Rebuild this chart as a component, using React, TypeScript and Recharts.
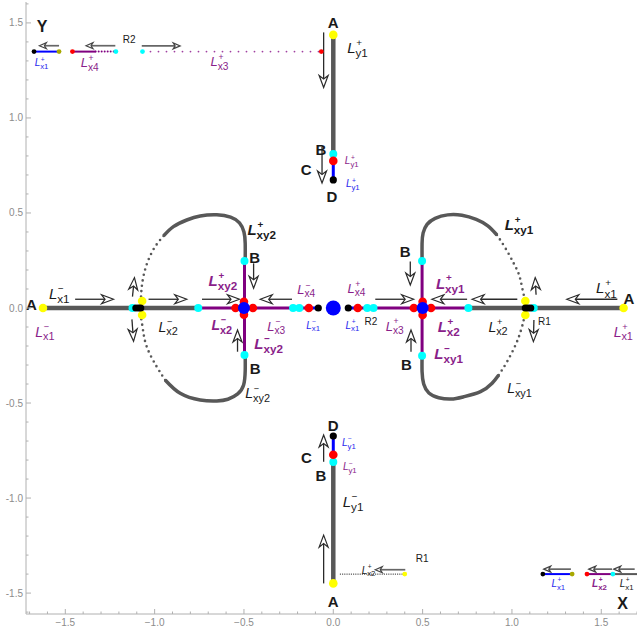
import { ComposedChart, XAxis, YAxis, Line, Scatter, ReferenceLine } from 'recharts';

const FONT = '"Liberation Sans", Arial, sans-serif';
const GRAY = '#585858';
const PURPLE = '#800080';
const BLUE = '#0000ff';
const INK = '#1a1a1a';
const TAG_PURPLE = '#8a1e8a';
const TAG_BLUE = '#2a2aee';

// frame ticks
const MAJOR_TICKS = [-1.5, -1, -0.5, 0, 0.5, 1, 1.5];
const ALL_TICKS = [
  -1.7, -1.6, -1.5, -1.4, -1.3, -1.2, -1.1, -1, -0.9, -0.8, -0.7, -0.6, -0.5, -0.4, -0.3, -0.2, -0.1,
  0, 0.1, 0.2, 0.3, 0.4, 0.5, 0.6, 0.7, 0.8, 0.9, 1, 1.1, 1.2, 1.3, 1.4, 1.5, 1.6, 1.7,
];

type P = { x: number; y: number };

// x-axis branch
const xLeftGray: P[] = [{ x: -1.625, y: 0 }, { x: -0.756, y: 0 }];
const xLeftPurple: P[] = [{ x: -0.756, y: 0 }, { x: -0.137, y: 0 }];
const xLeftBlue: P[] = [{ x: -0.137, y: 0 }, { x: -0.084, y: 0 }];
const xRightBlue: P[] = [{ x: 0.084, y: 0 }, { x: 0.137, y: 0 }];
const xRightPurple: P[] = [{ x: 0.137, y: 0 }, { x: 0.756, y: 0 }];
const xRightGray: P[] = [{ x: 0.756, y: 0 }, { x: 1.625, y: 0 }];
const xy2Stem: P[] = [{ x: -0.497, y: 0.247 }, { x: -0.497, y: -0.247 }];
const xy1Stem: P[] = [{ x: 0.497, y: 0.247 }, { x: 0.497, y: -0.251 }];

// y-axis branch
const yTopGray: P[] = [{ x: 0, y: 1.437 }, { x: 0, y: 0.81 }];
const yTopBlue: P[] = [{ x: 0, y: 0.774 }, { x: 0, y: 0.674 }];
const yBottomBlue: P[] = [{ x: 0, y: -0.674 }, { x: 0, y: -0.772 }];
const yBottomGray: P[] = [{ x: 0, y: -0.81 }, { x: 0, y: -1.449 }];

// loops around x = -0.5
const lxy2Plus: P[] = [
  { x: -0.493, y: 0.247 }, { x: -0.493, y: 0.34 }, { x: -0.5, y: 0.4 }, { x: -0.525, y: 0.448 },
  { x: -0.575, y: 0.478 }, { x: -0.652, y: 0.49 }, { x: -0.745, y: 0.484 }, { x: -0.82, y: 0.463 },
  { x: -0.895, y: 0.428 }, { x: -0.95, y: 0.379 },
];
const lxy2PlusTail: P[] = [
  { x: -0.95, y: 0.379 }, { x: -0.997, y: 0.323 }, { x: -1.035, y: 0.253 }, { x: -1.059, y: 0.182 },
  { x: -1.072, y: 0.112 }, { x: -1.076, y: 0.06 }, { x: -1.078, y: 0.02 },
];
const lxy2Minus: P[] = [
  { x: -0.493, y: -0.247 }, { x: -0.493, y: -0.33 }, { x: -0.502, y: -0.405 }, { x: -0.535, y: -0.452 },
  { x: -0.59, y: -0.48 }, { x: -0.652, y: -0.489 }, { x: -0.745, y: -0.484 }, { x: -0.857, y: -0.449 },
  { x: -0.941, y: -0.379 },
];
const lxy2MinusTail: P[] = [
  { x: -0.941, y: -0.379 }, { x: -0.988, y: -0.309 }, { x: -1.044, y: -0.204 }, { x: -1.066, y: -0.11 },
  { x: -1.076, y: -0.05 }, { x: -1.078, y: -0.02 },
];

// loops around x = 0.5
const lxy1Plus: P[] = [
  { x: 0.497, y: 0.247 }, { x: 0.497, y: 0.34 }, { x: 0.503, y: 0.395 }, { x: 0.525, y: 0.44 },
  { x: 0.57, y: 0.472 }, { x: 0.64, y: 0.49 }, { x: 0.72, y: 0.488 }, { x: 0.8, y: 0.466 },
  { x: 0.865, y: 0.432 }, { x: 0.916, y: 0.384 },
];
const lxy1PlusTail: P[] = [
  { x: 0.916, y: 0.384 }, { x: 0.964, y: 0.314 }, { x: 1.01, y: 0.235 }, { x: 1.04, y: 0.174 },
  { x: 1.056, y: 0.112 }, { x: 1.07, y: 0.051 }, { x: 1.075, y: 0.016 },
];
const lxy1Minus: P[] = [
  { x: 0.497, y: -0.251 }, { x: 0.497, y: -0.335 }, { x: 0.506, y: -0.4 }, { x: 0.535, y: -0.447 },
  { x: 0.59, y: -0.472 }, { x: 0.66, y: -0.479 }, { x: 0.73, y: -0.467 }, { x: 0.824, y: -0.44 },
  { x: 0.889, y: -0.396 }, { x: 0.926, y: -0.353 },
];
const lxy1MinusTail: P[] = [
  { x: 0.926, y: -0.353 }, { x: 0.973, y: -0.282 }, { x: 1.02, y: -0.195 }, { x: 1.048, y: -0.125 },
  { x: 1.066, y: -0.063 }, { x: 1.075, y: -0.016 },
];

// "Y" inset (top left)
const yInsetBlue: P[] = [{ x: -1.675, y: 1.349 }, { x: -1.535, y: 1.349 }];
const yInsetX4: P[] = [{ x: -1.46, y: 1.349 }, { x: -1.33, y: 1.349 }];
const yInsetX4Tail: P[] = [{ x: -1.33, y: 1.349 }, { x: -1.217, y: 1.349 }];
const yInsetX3: P[] = [{ x: -1.068, y: 1.349 }, { x: -0.067, y: 1.349 }];

// "X" inset (bottom right)
const xInsetBlue: P[] = [{ x: 1.173, y: -1.4 }, { x: 1.337, y: -1.4 }];
const xInsetX2: P[] = [{ x: 1.42, y: -1.4 }, { x: 1.565, y: -1.4 }];
const xInsetX1: P[] = [{ x: 1.565, y: -1.4 }, { x: 1.7, y: -1.4 }];
const r1Trace: P[] = [{ x: 0.04, y: -1.4 }, { x: 0.4, y: -1.4 }];

// equilibria
const yellowDots: P[] = [
  { x: -1.625, y: 0 }, { x: 1.625, y: 0 }, { x: 0, y: 1.437 }, { x: 0, y: -1.449 },
  { x: -1.07, y: 0.037 }, { x: -1.07, y: -0.037 }, { x: 1.075, y: 0.037 }, { x: 1.075, y: -0.037 },
];
const cyanDots: P[] = [
  { x: -0.756, y: 0 }, { x: 0.756, y: 0 }, { x: -0.225, y: 0 }, { x: -0.19, y: 0 },
  { x: 0.19, y: 0 }, { x: 0.225, y: 0 }, { x: -1.124, y: 0 }, { x: 1.122, y: 0 },
  { x: -0.497, y: 0.247 }, { x: -0.497, y: -0.247 }, { x: 0.497, y: 0.247 }, { x: 0.497, y: -0.251 },
  { x: 0, y: 0.81 }, { x: 0, y: -0.81 },
];
const redDots: P[] = [
  { x: -0.137, y: 0 }, { x: 0.137, y: 0 }, { x: -0.45, y: 0 }, { x: -0.547, y: 0 },
  { x: 0.451, y: 0 }, { x: 0.547, y: 0 }, { x: -0.5, y: 0.033 }, { x: -0.5, y: -0.035 },
  { x: 0.5, y: 0.033 }, { x: 0.5, y: -0.037 }, { x: 0, y: 0.774 }, { x: 0, y: -0.772 },
];
const blackDots: P[] = [
  { x: -0.084, y: 0 }, { x: 0.084, y: 0 }, { x: -1.105, y: 0 }, { x: -1.09, y: 0 }, { x: -1.078, y: 0 },
  { x: 1.075, y: 0 }, { x: 1.09, y: 0 }, { x: 1.105, y: 0 }, { x: 0, y: 0.674 }, { x: 0, y: -0.674 },
];
const blueSide: P[] = [{ x: -0.5, y: 0 }, { x: 0.5, y: 0 }];
const blueOrigin: P[] = [{ x: 0, y: 0 }];
const insetBlack: P[] = [{ x: -1.675, y: 1.349 }, { x: 1.173, y: -1.4 }];
const insetOlive: P[] = [{ x: -1.535, y: 1.349 }, { x: 1.337, y: -1.4 }];
const insetRed: P[] = [{ x: -1.46, y: 1.349 }, { x: -0.067, y: 1.349 }, { x: 1.42, y: -1.4 }];
const insetCyan: P[] = [{ x: -1.217, y: 1.349 }, { x: -1.068, y: 1.349 }, { x: 1.565, y: -1.4 }];
const insetYellow: P[] = [{ x: 0.4, y: -1.4 }];

// flow arrows: tail -> head
type Arrow = { x1: number; y1: number; x2: number; y2: number };
const bigArrows: Arrow[] = [
  { x1: -1.445, y1: 0.046, x2: -1.23, y2: 0.046 },
  { x1: -1.034, y1: 0.046, x2: -0.82, y2: 0.046 },
  { x1: -0.735, y1: 0.046, x2: -0.525, y2: 0.046 },
  { x1: -0.231, y1: 0.046, x2: -0.409, y2: 0.046 },
  { x1: 0.235, y1: 0.046, x2: 0.45, y2: 0.046 },
  { x1: 0.749, y1: 0.046, x2: 0.552, y2: 0.046 },
  { x1: 1.03, y1: 0.046, x2: 0.777, y2: 0.046 },
  { x1: 1.59, y1: 0.046, x2: 1.307, y2: 0.046 },
  { x1: -1.124, y1: 0.06, x2: -1.113, y2: 0.16 },
  { x1: -1.127, y1: -0.06, x2: -1.118, y2: -0.175 },
  { x1: 1.135, y1: 0.07, x2: 1.13, y2: 0.16 },
  { x1: 1.123, y1: -0.063, x2: 1.12, y2: -0.177 },
  { x1: -0.446, y1: 0.235, x2: -0.446, y2: 0.104 },
  { x1: -0.536, y1: -0.23, x2: -0.536, y2: -0.116 },
  { x1: 0.431, y1: 0.244, x2: 0.431, y2: 0.121 },
  { x1: 0.435, y1: -0.23, x2: 0.435, y2: -0.116 },
  { x1: -0.054, y1: 1.45, x2: -0.054, y2: 1.16 },
  { x1: -0.063, y1: 0.847, x2: -0.063, y2: 0.658 },
  { x1: -0.054, y1: -0.809, x2: -0.054, y2: -0.668 },
  { x1: -0.054, y1: -1.449, x2: -0.054, y2: -1.195 },
];
const smallArrows: Arrow[] = [
  { x1: -1.535, y1: 1.38, x2: -1.645, y2: 1.38 },
  { x1: -1.22, y1: 1.38, x2: -1.384, y2: 1.38 },
  { x1: -1.072, y1: 1.379, x2: -0.857, y2: 1.379 },
  { x1: 0.403, y1: -1.377, x2: 0.235, y2: -1.377 },
  { x1: 1.33, y1: -1.374, x2: 1.178, y2: -1.374 },
  { x1: 1.56, y1: -1.374, x2: 1.43, y2: -1.374 },
  { x1: 1.687, y1: -1.374, x2: 1.57, y2: -1.374 },
];

// curve names L^sup_sub
type Tag = { x: number; y: number; sup: string; sub: string; color: string; size: number; bold?: boolean };
const M = '\u2212';
const curveTags: Tag[] = [
  { x: -1.53, y: 0.077, sup: M, sub: 'x1', color: INK, size: 15 },
  { x: -1.61, y: -0.125, sup: M, sub: 'x1', color: TAG_PURPLE, size: 14 },
  { x: -0.92, y: -0.098, sup: M, sub: 'x2', color: INK, size: 14 },
  { x: -0.4, y: 0.41, sup: '+', sub: 'xy2', color: INK, size: 15, bold: true },
  { x: -0.618, y: 0.142, sup: '+', sub: 'xy2', color: TAG_PURPLE, size: 15, bold: true },
  { x: -0.148, y: 0.098, sup: M, sub: 'x4', color: TAG_PURPLE, size: 13 },
  { x: -0.624, y: -0.09, sup: M, sub: 'x2', color: TAG_PURPLE, size: 14, bold: true },
  { x: -0.316, y: -0.095, sup: M, sub: 'x3', color: TAG_PURPLE, size: 13 },
  { x: -0.11, y: -0.09, sup: M, sub: 'x1', color: TAG_BLUE, size: 10 },
  { x: -0.362, y: -0.186, sup: M, sub: 'xy2', color: TAG_PURPLE, size: 15, bold: true },
  { x: -0.418, y: -0.449, sup: M, sub: 'xy2', color: INK, size: 14 },
  { x: 0.133, y: 0.104, sup: '+', sub: 'x4', color: TAG_PURPLE, size: 13 },
  { x: 0.11, y: -0.09, sup: '+', sub: 'x1', color: TAG_BLUE, size: 10 },
  { x: 0.347, y: -0.095, sup: '+', sub: 'x3', color: TAG_PURPLE, size: 13 },
  { x: 0.655, y: 0.13, sup: '+', sub: 'xy1', color: TAG_PURPLE, size: 15, bold: true },
  { x: 1.533, y: 0.104, sup: '+', sub: 'x1', color: INK, size: 15 },
  { x: 1.627, y: -0.125, sup: '+', sub: 'x1', color: TAG_PURPLE, size: 14 },
  { x: 1.04, y: 0.437, sup: '+', sub: 'xy1', color: INK, size: 15, bold: true },
  { x: 0.926, y: -0.098, sup: '+', sub: 'x2', color: INK, size: 14 },
  { x: 0.646, y: -0.098, sup: '+', sub: 'x2', color: TAG_PURPLE, size: 15, bold: true },
  { x: 0.646, y: -0.239, sup: M, sub: 'xy1', color: TAG_PURPLE, size: 15, bold: true },
  { x: 1.048, y: -0.423, sup: M, sub: 'xy1', color: INK, size: 14 },
  { x: 0.14, y: 1.37, sup: '+', sub: 'y1', color: INK, size: 15 },
  { x: 0.106, y: 0.774, sup: '+', sub: 'y1', color: TAG_PURPLE, size: 10 },
  { x: 0.112, y: 0.653, sup: '+', sub: 'y1', color: TAG_BLUE, size: 10 },
  { x: 0.09, y: -0.707, sup: M, sub: 'y1', color: TAG_BLUE, size: 10 },
  { x: 0.095, y: -0.835, sup: M, sub: 'y1', color: TAG_PURPLE, size: 10 },
  { x: 0.115, y: -1.02, sup: M, sub: 'y1', color: INK, size: 15 },
  { x: -1.63, y: 1.29, sup: '+', sub: 'x1', color: TAG_BLUE, size: 10 },
  { x: -1.36, y: 1.29, sup: '+', sub: 'x4', color: TAG_PURPLE, size: 13 },
  { x: -0.633, y: 1.297, sup: '+', sub: 'x3', color: TAG_PURPLE, size: 13 },
  { x: 0.2, y: -1.38, sup: '+', sub: 'x2', color: INK, size: 10 },
  { x: 1.262, y: -1.45, sup: '+', sub: 'x1', color: TAG_BLUE, size: 10 },
  { x: 1.49, y: -1.45, sup: '+', sub: 'x2', color: TAG_PURPLE, size: 10, bold: true },
  { x: 1.645, y: -1.45, sup: '+', sub: 'x1', color: INK, size: 10 },
];

type Mark = { x: number; y: number; text: string; size: number; bold: boolean };
const pointMarks: Mark[] = [
  { x: -1.69, y: 0.02, text: 'A', size: 15, bold: true },
  { x: 1.655, y: 0.05, text: 'A', size: 15, bold: true },
  { x: 0, y: 1.5, text: 'A', size: 15, bold: true },
  { x: 0, y: -1.546, text: 'A', size: 15, bold: true },
  { x: -0.44, y: 0.267, text: 'B', size: 15, bold: true },
  { x: -0.437, y: -0.317, text: 'B', size: 15, bold: true },
  { x: 0.403, y: 0.296, text: 'B', size: 15, bold: true },
  { x: 0.409, y: -0.3, text: 'B', size: 15, bold: true },
  { x: -0.069, y: 0.835, text: 'B', size: 15, bold: true },
  { x: -0.069, y: -0.884, text: 'B', size: 15, bold: true },
  { x: -0.152, y: 0.73, text: 'C', size: 15, bold: true },
  { x: -0.15, y: -0.788, text: 'C', size: 15, bold: true },
  { x: -0.007, y: 0.586, text: 'D', size: 15, bold: true },
  { x: 0, y: -0.62, text: 'D', size: 15, bold: true },
  { x: 1.62, y: -1.555, text: 'X', size: 16, bold: true },
  { x: -1.63, y: 1.48, text: 'Y', size: 16, bold: true },
  { x: 1.182, y: -0.072, text: 'R1', size: 10, bold: false },
  { x: 0.497, y: -1.317, text: 'R1', size: 10, bold: false },
  { x: 0.211, y: -0.072, text: 'R2', size: 10, bold: false },
  { x: -1.143, y: 1.415, text: 'R2', size: 10, bold: false },
];

const isMajor = (v: number) => MAJOR_TICKS.some((m) => Math.abs(m - v) < 1e-6);
const fmt = (v: number, minus: string) => (v < 0 ? minus : '') + Math.abs(v).toFixed(1);

const BottomTick = (p: any) => {
  const v = p.payload.value;
  const major = isMajor(v);
  return (
    <g>
      <line x1={p.x} x2={p.x} y1={p.y} y2={p.y - (major ? 5 : 2.5)} stroke="#b0b0b0" />
      {major && (
        <text x={p.x} y={p.y + 12} textAnchor="middle" fontSize={10} fill="#8c8c8c" fontFamily={FONT}>
          {fmt(v, M)}
        </text>
      )}
    </g>
  );
};

const TopTick = (p: any) => {
  const major = isMajor(p.payload.value);
  return <line x1={p.x} x2={p.x} y1={p.y} y2={p.y + (major ? 5 : 2.5)} stroke="#b0b0b0" />;
};

const LeftTick = (p: any) => {
  const v = p.payload.value;
  const major = isMajor(v);
  return (
    <g>
      <line x1={p.x} x2={p.x + (major ? 5 : 2.5)} y1={p.y} y2={p.y} stroke="#b0b0b0" />
      {major && (
        <text x={p.x - 3} y={p.y + 3.5} textAnchor="end" fontSize={10} fill="#8c8c8c" fontFamily={FONT}>
          {fmt(v, '-')}
        </text>
      )}
    </g>
  );
};

const dot = (r: number, fill: string) => (p: any) => <circle cx={p.cx} cy={p.cy} r={r} fill={fill} />;

// italic L with a stacked superscript sign and subscript, as one text run
const CurveTag = (p: any) => {
  const t: Tag = p.payload;
  const s = t.size;
  const supSize = s * 0.66;
  const subSize = s * 0.78;
  const w = s * 0.6 + t.sub.length * subSize * 0.56;
  const x0 = p.cx - w / 2;
  return (
    <text
      x={x0}
      y={p.cy + s * 0.35}
      fill={t.color}
      fontFamily={FONT}
      fontWeight={t.bold ? 700 : 400}
      fontSize={s}
    >
      <tspan fontStyle="italic">L</tspan>
      <tspan dx={s * 0.05} dy={-s * 0.47} fontSize={supSize}>{t.sup}</tspan>
      <tspan dx={-s * 0.44} dy={s * 0.74} fontSize={subSize}>{t.sub}</tspan>
    </text>
  );
};

const PointMark = (p: any) => {
  const m: Mark = p.payload;
  return (
    <text
      x={p.cx}
      y={p.cy + m.size * 0.36}
      textAnchor="middle"
      fontSize={m.size}
      fontWeight={m.bold ? 700 : 400}
      fill={INK}
      fontFamily={FONT}
    >
      {m.text}
    </text>
  );
};

const arrowShape = (small: boolean) => (p: any) => {
  const { x1, y1, x2, y2 } = p;
  const len = Math.hypot(x2 - x1, y2 - y1) || 1;
  const ux = (x2 - x1) / len;
  const uy = (y2 - y1) / len;
  const hl = small ? 7 : 12;
  const hw = small ? 3 : 4.5;
  const notch = small ? 2 : 3.5;
  const bx = x2 - ux * hl;
  const by = y2 - uy * hl;
  const nx = x2 - ux * (hl - notch);
  const ny = y2 - uy * (hl - notch);
  const pts = `${x2},${y2} ${bx - uy * hw},${by + ux * hw} ${nx},${ny} ${bx + uy * hw},${by - ux * hw}`;
  const color = small ? '#444' : '#2a2a2a';
  return (
    <g>
      <line x1={x1} y1={y1} x2={nx} y2={ny} stroke={small ? '#666' : color} strokeWidth={small ? 1.7 : 1.3} />
      <polygon points={pts} fill="#fff" stroke={color} strokeWidth={1.2} />
    </g>
  );
};

const solidLines: { data: P[]; color: string; width: number; curve?: boolean }[] = [
  { data: xLeftGray, color: GRAY, width: 4.5 },
  { data: xRightGray, color: GRAY, width: 4.5 },
  { data: xLeftPurple, color: PURPLE, width: 3 },
  { data: xRightPurple, color: PURPLE, width: 3 },
  { data: xLeftBlue, color: BLUE, width: 3 },
  { data: xRightBlue, color: BLUE, width: 3 },
  { data: lxy2Plus, color: GRAY, width: 3.5, curve: true },
  { data: lxy2Minus, color: GRAY, width: 3.5, curve: true },
  { data: lxy1Plus, color: GRAY, width: 3.5, curve: true },
  { data: lxy1Minus, color: GRAY, width: 3.5, curve: true },
  { data: xy2Stem, color: PURPLE, width: 3 },
  { data: xy1Stem, color: PURPLE, width: 3 },
  { data: yTopGray, color: GRAY, width: 4.5 },
  { data: yTopBlue, color: BLUE, width: 3 },
  { data: yBottomBlue, color: BLUE, width: 3 },
  { data: yBottomGray, color: GRAY, width: 4.5 },
  { data: yInsetBlue, color: BLUE, width: 2 },
  { data: yInsetX4, color: PURPLE, width: 2 },
  { data: xInsetBlue, color: BLUE, width: 2 },
  { data: xInsetX2, color: PURPLE, width: 2 },
  { data: xInsetX1, color: GRAY, width: 2 },
];

const dottedLines: { data: P[]; color: string; width: number; dash: string; curve?: boolean }[] = [
  { data: lxy2PlusTail, color: GRAY, width: 2.6, dash: '0 5.5', curve: true },
  { data: lxy2MinusTail, color: GRAY, width: 2.6, dash: '0 5.5', curve: true },
  { data: lxy1PlusTail, color: GRAY, width: 2.6, dash: '0 5.5', curve: true },
  { data: lxy1MinusTail, color: GRAY, width: 2.6, dash: '0 5.5', curve: true },
  { data: yInsetX4Tail, color: PURPLE, width: 2, dash: '0 3' },
  { data: yInsetX3, color: '#a040a0', width: 1.8, dash: '0 8' },
  { data: r1Trace, color: '#333', width: 1.4, dash: '0 2.2' },
];

export default function App() {
  return (
    <div style={{ position: 'absolute', left: 0, top: 0, width: 637, height: 637, background: '#fff' }}>
      <ComposedChart width={637} height={637} margin={{ top: 2, right: 0, bottom: 0, left: 0 }}>
        <XAxis
          type="number"
          dataKey="x"
          domain={[-1.72, 1.7]}
          allowDataOverflow
          ticks={ALL_TICKS}
          interval={0}
          height={23}
          stroke="#b0b0b0"
          tickSize={0}
          tickMargin={0}
          tickLine={false}
          tick={BottomTick}
        />
        <XAxis
          xAxisId="top"
          orientation="top"
          type="number"
          dataKey="x"
          domain={[-1.72, 1.7]}
          allowDataOverflow
          ticks={ALL_TICKS}
          interval={0}
          height={0}
          stroke="#b0b0b0"
          tickSize={0}
          tickMargin={0}
          tickLine={false}
          tick={TopTick}
        />
        <YAxis
          type="number"
          dataKey="y"
          domain={[-1.61, 1.61]}
          allowDataOverflow
          ticks={ALL_TICKS.filter((v) => Math.abs(v) <= 1.6)}
          interval={0}
          width={26}
          stroke="#b0b0b0"
          tickSize={0}
          tickMargin={0}
          tickLine={false}
          tick={LeftTick}
        />

        {solidLines.map((l, i) => (
          <Line
            key={`s${i}`}
            data={l.data}
            dataKey="y"
            type={l.curve ? 'natural' : 'linear'}
            stroke={l.color}
            strokeWidth={l.width}
            dot={false}
            activeDot={false}
            isAnimationActive={false}
          />
        ))}
        {dottedLines.map((l, i) => (
          <Line
            key={`d${i}`}
            data={l.data}
            dataKey="y"
            type={l.curve ? 'natural' : 'linear'}
            stroke={l.color}
            strokeWidth={l.width}
            strokeDasharray={l.dash}
            strokeLinecap="round"
            dot={false}
            activeDot={false}
            isAnimationActive={false}
          />
        ))}

        {bigArrows.map((a, i) => (
          <ReferenceLine
            key={`a${i}`}
            segment={[{ x: a.x1, y: a.y1 }, { x: a.x2, y: a.y2 }]}
            shape={arrowShape(false)}
          />
        ))}
        {smallArrows.map((a, i) => (
          <ReferenceLine
            key={`sa${i}`}
            segment={[{ x: a.x1, y: a.y1 }, { x: a.x2, y: a.y2 }]}
            shape={arrowShape(true)}
          />
        ))}

        <Scatter data={yellowDots} dataKey="y" shape={dot(4.3, '#ffff00')} isAnimationActive={false} />
        <Scatter data={cyanDots} dataKey="y" shape={dot(4, '#00ffff')} isAnimationActive={false} />
        <Scatter data={redDots} dataKey="y" shape={dot(4.3, '#ff0000')} isAnimationActive={false} />
        <Scatter data={blackDots} dataKey="y" shape={dot(3.6, '#000')} isAnimationActive={false} />
        <Scatter data={blueSide} dataKey="y" shape={dot(6, BLUE)} isAnimationActive={false} />
        <Scatter data={blueOrigin} dataKey="y" shape={dot(7.5, BLUE)} isAnimationActive={false} />
        <Scatter data={insetBlack} dataKey="y" shape={dot(2.4, '#000')} isAnimationActive={false} />
        <Scatter data={insetOlive} dataKey="y" shape={dot(2.4, '#a8a800')} isAnimationActive={false} />
        <Scatter data={insetRed} dataKey="y" shape={dot(2.4, '#ff0000')} isAnimationActive={false} />
        <Scatter data={insetCyan} dataKey="y" shape={dot(2.4, '#00ffff')} isAnimationActive={false} />
        <Scatter data={insetYellow} dataKey="y" shape={dot(2.4, '#ffff00')} isAnimationActive={false} />

        <Scatter data={curveTags} dataKey="y" shape={CurveTag} isAnimationActive={false} />
        <Scatter data={pointMarks} dataKey="y" shape={PointMark} isAnimationActive={false} />
      </ComposedChart>
    </div>
  );
}
